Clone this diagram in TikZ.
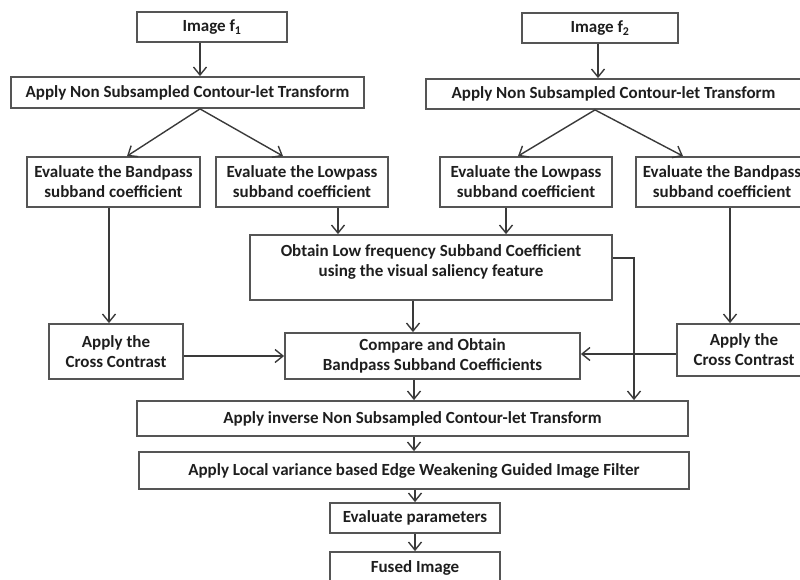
\documentclass[tikz,border=0pt]{standalone}
\usepackage{fontspec}
\setmainfont{Carlito}
\usetikzlibrary{arrows.meta}
\definecolor{boxc}{HTML}{555555}
\definecolor{linec}{HTML}{3A3A3A}
\definecolor{txtc}{HTML}{1E1E1E}
\begin{document}
\begin{tikzpicture}[x=1pt,y=-1pt,
  box/.style={draw=boxc, line width=1.8pt, inner sep=0pt, align=center,
    font=\bfseries\fontsize{17}{20}\selectfont, text=txtc},
  txt/.style={inner sep=0pt, align=center, font=\bfseries\fontsize{17}{20}\selectfont, text=txtc},
  arr/.style={draw=linec, line width=1.4pt, -{Straight Barb[length=8pt,width=13pt]}}]
\useasboundingbox (0,0) rectangle (800,579);

% boxes
\node[box, minimum width=150pt, minimum height=30pt] (f1) at (212,27) {Image f\textsubscript{1}};
\node[box, minimum width=353pt, minimum height=31pt] (nsct1) at (187.5,92.5) {Apply Non Subsampled Contour-let Transform};
\node[box, minimum width=156pt, minimum height=30pt] (f2) at (600,28) {Image f\textsubscript{2}};
\node[box, minimum width=375pt, minimum height=30pt] (nsct2) at (613.5,94) {Apply Non Subsampled Contour-let Transform};

\node[box, minimum width=173pt, minimum height=50pt] (bp1) at (113.5,182) {Evaluate the Bandpass\\subband coefficient};
\node[box, minimum width=172pt, minimum height=50pt] (lp1) at (302,182) {Evaluate the Lowpass\\subband coefficient};
\node[box, minimum width=172pt, minimum height=50pt] (lp2) at (526,182) {Evaluate the Lowpass\\subband coefficient};
\node[box, minimum width=172pt, minimum height=50pt] (bp2) at (722,182) {Evaluate the Bandpass\\subband coefficient};

\node[box, minimum width=362pt, minimum height=65pt] (ob) at (431,267.5) {};
\node[txt] (obt) at (431,262) {Obtain Low frequency Subband Coefficient\\using the visual saliency feature};

\node[box, minimum width=134pt, minimum height=55pt] (cc1) at (116,351.5) {Apply the\\Cross Contrast};
\node[box, minimum width=295pt, minimum height=46pt] (cmp) at (432.5,356) {Compare and Obtain\\Bandpass Subband Coefficients};
\node[box, minimum width=134pt, minimum height=52pt] (cc2) at (744,350) {Apply the\\Cross Contrast};

\node[box, minimum width=551pt, minimum height=35pt] (inv) at (412.5,418.5) {Apply inverse Non Subsampled Contour-let Transform};
\node[box, minimum width=550pt, minimum height=37pt] (lv) at (414,470.5) {Apply Local variance based Edge Weakening Guided Image Filter};
\node[box, minimum width=170pt, minimum height=30pt] (ep) at (415,518) {Evaluate parameters};
\node[box, minimum width=170pt, minimum height=32pt] (fu) at (415,568) {Fused Image};

% guide coordinates
\coordinate (c1) at (200,0);
\coordinate (c2) at (598,0);
\coordinate (c3) at (595,0);
\coordinate (t1) at (127,0);
\coordinate (t2) at (283,0);
\coordinate (t3) at (518,0);
\coordinate (t4) at (683,0);
\coordinate (v1) at (338,0);
\coordinate (v2) at (506,0);
\coordinate (v3) at (109,0);
\coordinate (v4) at (730,0);
\coordinate (v5) at (413,0);
\coordinate (v6) at (414,0);
\coordinate (v7) at (634,0);
\coordinate (v8) at (415,0);
\coordinate (h1) at (0,356);
\coordinate (h2) at (0,354);
\coordinate (h3) at (0,258);

% connectors
\draw[arr] (f1.south -| c1) -- (nsct1.north -| c1);
\draw[arr] (f2.south -| c2) -- (nsct2.north -| c2);
\draw[arr] (nsct1.south -| c1) -- (bp1.north -| t1);
\draw[arr] (nsct1.south -| c1) -- (lp1.north -| t2);
\draw[arr] (nsct2.south -| c3) -- (lp2.north -| t3);
\draw[arr] (nsct2.south -| c3) -- (bp2.north -| t4);
\draw[arr] (lp1.south -| v1) -- (ob.north -| v1);
\draw[arr] (lp2.south -| v2) -- (ob.north -| v2);
\draw[arr] (bp1.south -| v3) -- (cc1.north -| v3);
\draw[arr] (bp2.south -| v4) -- (cc2.north -| v4);
\draw[arr] (cc1.east |- h1) -- (cmp.west |- h1);
\draw[arr] (cc2.west |- h2) -- (cmp.east |- h2);
\draw[arr] (ob.south -| v5) -- (cmp.north -| v5);
\draw[arr] (cmp.south -| v6) -- (inv.north -| v6);
\draw[arr] (ob.east |- h3) -- (v7 |- h3) -- (inv.north -| v7);
\draw[arr] (inv.south -| v6) -- (lv.north -| v6);
\draw[arr] (lv.south -| v8) -- (ep.north -| v8);
\draw[arr] (ep.south -| v8) -- (fu.north -| v8);
\end{tikzpicture}
\end{document}
